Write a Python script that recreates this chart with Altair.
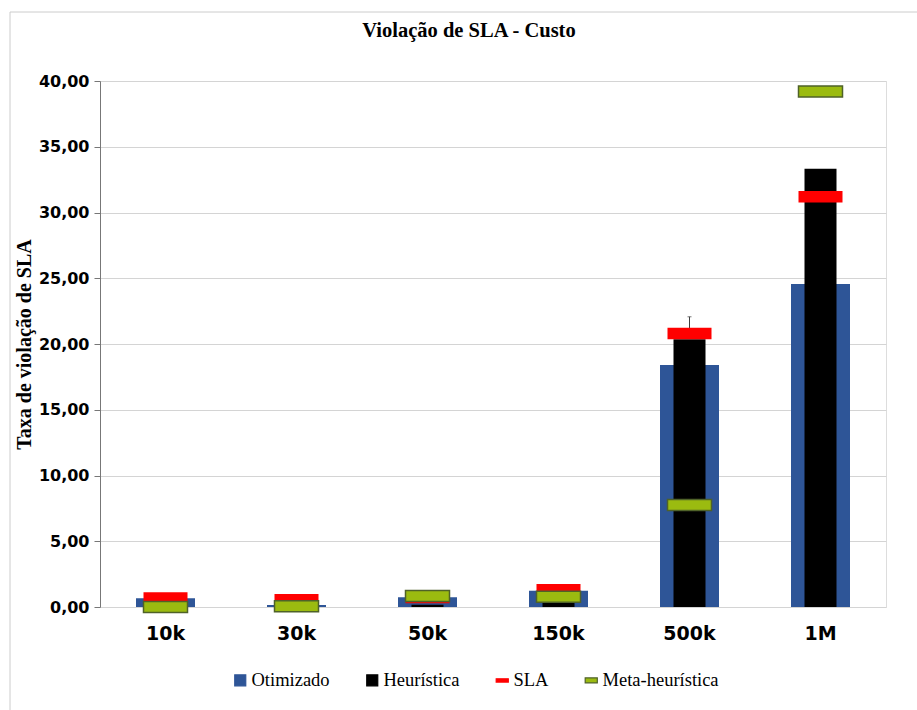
import altair as alt
import pandas as pd

# Workload sizes and measured SLA violation rates (%)
categorias = ["10k", "30k", "50k", "150k", "500k", "1M"]
otimizado = [0.66, 0.15, 0.74, 1.24, 18.40, 24.56]
heuristica = [0.05, 0.02, 0.17, 0.36, 20.36, 33.33]
sla = [0.68, 0.55, 0.72, 1.32, 20.80, 31.20]
meta_heuristica = [0.00, 0.05, 0.84, 0.78, 7.75, 39.20]
erro_heuristica = [0.0, 0.0, 0.0, 0.0, 1.71, 0.0]

series = ["Otimizado", "Heurística", "SLA", "Meta-heurística"]
cores = ["#2E5597", "#000000", "#FF0000", "#9BBB10"]
bordas = ["#2E5597", "#000000", "#FF0000", "#4F6228"]
simbolos = ["square", "square",
            "M-1.1,-0.3H1.1V0.3H-1.1Z",
            "M-1.1,-0.45H1.1V0.45H-1.1Z"]

df = pd.DataFrame({
    "cat": categorias,
    "otim": otimizado,
    "heur": heuristica,
    "sla": sla,
    "meta": meta_heuristica,
    "err": erro_heuristica,
})
df["heur_top"] = df["heur"] + df["err"]

legenda_df = pd.DataFrame({"serie": series})

x_enc = alt.X(
    "cat:N",
    sort=categorias,
    scale=alt.Scale(paddingInner=0, paddingOuter=0),
    axis=alt.Axis(
        title=None, domain=False, ticks=False, labelAngle=0,
        labelFont="DejaVu Sans", labelFontWeight="bold", labelFontSize=19,
        labelColor="#000000", labelPadding=17,
    ),
)

y_scale = alt.Scale(domain=[0, 40], nice=False)
y_axis = alt.Axis(
    title="Taxa de violação de SLA",
    titleFont="Liberation Serif", titleFontSize=20, titleFontWeight="bold",
    titleColor="#000000", titleX=-66, titleY=263,
    values=list(range(0, 45, 5)),
    labelExpr="replace(format(datum.value, '.2f'), '.', ',')",
    labelFont="DejaVu Sans", labelFontWeight="bold", labelFontSize=16,
    labelColor="#000000", labelPadding=5,
    domain=True, domainColor="#777777", domainWidth=1,
    ticks=True, tickColor="#777777", tickSize=6,
    grid=True, gridColor="#d4d4d4", gridWidth=1,
)

base = alt.Chart(df)

barras_otim = base.mark_bar(size=59, color="#2E5597").encode(
    x=x_enc, y=alt.Y("otim:Q", scale=y_scale, axis=y_axis)
)

barras_heur = base.mark_bar(size=32, color="#000000").encode(
    x=x_enc, y=alt.Y("heur:Q")
)

erro = base.transform_filter("datum.err > 0")
erro_linha = erro.mark_rule(color="#404040", strokeWidth=1).encode(
    x=x_enc, y=alt.Y("heur:Q"), y2="heur_top:Q"
)
erro_cap = erro.mark_tick(color="#404040", size=4, thickness=1).encode(
    x=x_enc, y=alt.Y("heur_top:Q")
)

marcas_sla = base.mark_tick(color="#FF0000", size=44, thickness=11.5, opacity=1).encode(
    x=x_enc, y=alt.Y("sla:Q")
)

marcas_meta = base.mark_tick(
    color="#9BBB10", stroke="#4F6228", strokeWidth=1.5,
    size=44, thickness=11, opacity=1,
).encode(x=x_enc, y=alt.Y("meta:Q"))

legenda = alt.Legend(
    title=None, orient="none", direction="horizontal",
    legendX=131, legendY=590, padding=0,
    columnPadding=33, labelOffset=2,
    labelFont="Liberation Serif", labelFontSize=18.5, labelColor="#000000",
    symbolSize=121, symbolStrokeWidth=1.2, symbolOpacity=1,
)

chave = alt.Chart(legenda_df).mark_point(filled=True, opacity=0).encode(
    x=alt.value(0), y=alt.value(0),
    fill=alt.Fill("serie:N", scale=alt.Scale(domain=series, range=cores), legend=legenda),
    stroke=alt.Stroke("serie:N", scale=alt.Scale(domain=series, range=bordas), legend=legenda),
    shape=alt.Shape("serie:N", scale=alt.Scale(domain=series, range=simbolos), legend=legenda),
)

moldura = alt.Chart(pd.DataFrame({"m": [1]})).mark_rect(
    fillOpacity=0, stroke="#cccccc", strokeWidth=1
).encode(
    x=alt.value(-90), x2=alt.value(830), y=alt.value(-69), y2=alt.value(640)
)

chart = alt.layer(
    moldura, barras_otim, barras_heur, erro_linha, erro_cap,
    marcas_sla, marcas_meta, chave,
).properties(
    width=786,
    height=526,
    padding={"left": 100, "top": 81, "right": 31, "bottom": 103},
    autosize=alt.AutoSizeParams(type="none"),
    title=alt.Title(
        "Violação de SLA - Custo",
        font="Liberation Serif", fontSize=20.5, fontWeight="bold",
        color="#000000", anchor="middle", dx=-24, offset=-30,
    ),
).configure_view(stroke=None).configure(background="#ffffff")

chart.save("out.html", embed_options={"renderer": "svg", "actions": False})
